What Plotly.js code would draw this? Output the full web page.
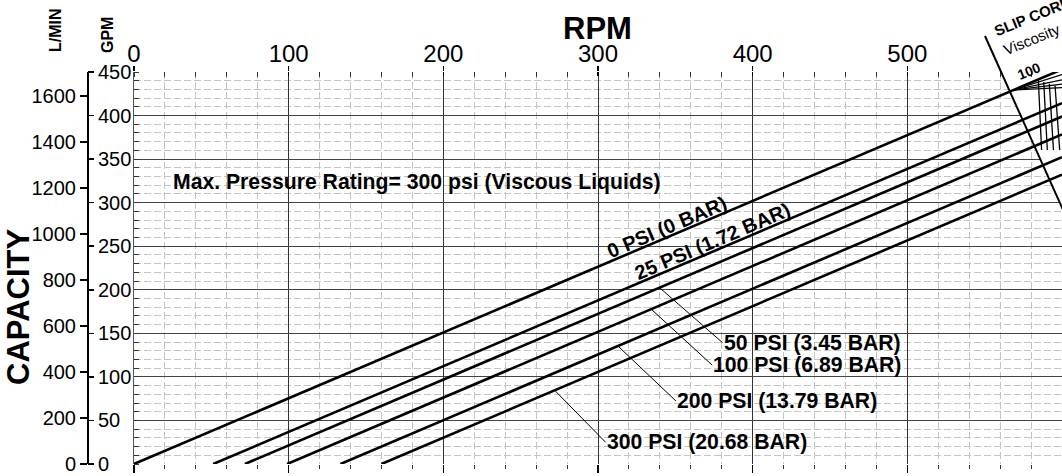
<!DOCTYPE html>
<html><head><meta charset="utf-8">
<script src="https://cdn.plot.ly/plotly-3.0.1.min.js"></script>
<style>html,body{margin:0;padding:0;background:#fff;}#chart{width:1062px;height:476px;}</style>
</head><body><div id="chart"></div>
<script>
// ---------- data ----------
const rpmTicks = [0, 100, 200, 300, 400, 500];
const gpmTicks = [0, 50, 100, 150, 200, 250, 300, 350, 400, 450];
const lpmTicks = [0, 200, 400, 600, 800, 1000, 1200, 1400, 1600];
const pressureLabels = ['0 PSI (0 BAR)', '25 PSI (1.72 BAR)', '50 PSI (3.45 BAR)', '100 PSI (6.89 BAR)', '200 PSI (13.79 BAR)', '300 PSI (20.68 BAR)'];
const lineStartRPM = [0, 51.2, 71.7, 99, 133.5, 160];
const lineStartGPM = [0, 0, 0, 0, 0, 0];
const lineEndRPM = [600, 600, 600, 600, 600, 600];
const lineEndGPM = [453, 414.3, 398.9, 378.3, 352.2, 332.2];
// slip-correction scale (nomogram, partly cut off at right edge)
const slipRPM = [550.2, 602];
const slipGPM = [491.3, 286.4];
const fanStartRPM = 568.3, fanStartGPM = 429.3;
const fanEndRPM = [600, 600, 600, 600];
const fanEndGPM = [447, 441, 436, 432];
const vLineTopRPM = [584.7, 588.2, 591.8, 595.5];
const vLineTopGPM = [441, 438.5, 436.5, 434.5];
const vLineBotRPM = [586.8, 590.5, 594.5, 598.5];
const vLineBotGPM = [360.5, 360.5, 360.5, 360.5];
const GPM_TO_LPM = 3.78541;

// ---------- geometry ----------
const W = 1062, H = 476;
const X0 = 134, YTOP = 72, YBOT = 464;
const xDomain = [X0 / W, 1];
const yDomain = [(H - YBOT) / H, (H - YTOP) / H];
const yMax = 450;
const sc = (yDomain[1] - yDomain[0]) / yMax;
const y2Range = [-yDomain[0] / sc, yMax + (1 - yDomain[1]) / sc];
const FONT = 'Liberation Sans, Arial, Helvetica, sans-serif';

function gpmAt(i, rpm) {
  const t = (rpm - lineStartRPM[i]) / (lineEndRPM[i] - lineStartRPM[i]);
  return lineStartGPM[i] + t * (lineEndGPM[i] - lineStartGPM[i]);
}

const traces = [];
for (let i = 0; i < pressureLabels.length; i++) {
  traces.push({x: [lineStartRPM[i], lineEndRPM[i]], y: [lineStartGPM[i], lineEndGPM[i]],
    mode: 'lines', line: {color: '#000', width: 2.6}, xaxis: 'x', yaxis: 'y',
    hoverinfo: 'skip', showlegend: false, name: pressureLabels[i]});
}
traces.push({x: slipRPM, y: slipGPM, mode: 'lines', line: {color: '#000', width: 2},
  xaxis: 'x3', yaxis: 'y2', hoverinfo: 'skip', showlegend: false});
for (let i = 0; i < fanEndGPM.length; i++) {
  traces.push({x: [fanStartRPM, fanEndRPM[i]], y: [fanStartGPM, fanEndGPM[i]], mode: 'lines',
    line: {color: '#000', width: 1.3}, xaxis: 'x3', yaxis: 'y2', hoverinfo: 'skip', showlegend: false});
}
for (let i = 0; i < vLineTopRPM.length; i++) {
  traces.push({x: [vLineTopRPM[i], vLineBotRPM[i]], y: [vLineTopGPM[i], vLineBotGPM[i]], mode: 'lines',
    line: {color: '#000', width: 1.3}, xaxis: 'x3', yaxis: 'y2', hoverinfo: 'skip', showlegend: false});
}
// invisible anchors for the extra axes
traces.push({x: [0], y: [0], mode: 'markers', marker: {opacity: 0}, xaxis: 'x2', yaxis: 'y', hoverinfo: 'skip', showlegend: false});
traces.push({x: [0], y: [0], mode: 'markers', marker: {opacity: 0}, xaxis: 'x4', yaxis: 'y', hoverinfo: 'skip', showlegend: false});
traces.push({x: [0], y: [0], mode: 'markers', marker: {opacity: 0}, xaxis: 'x', yaxis: 'y3', hoverinfo: 'skip', showlegend: false});
traces.push({x: [0], y: [0], mode: 'markers', marker: {opacity: 0}, xaxis: 'x', yaxis: 'y4', hoverinfo: 'skip', showlegend: false});

const minorGrid = {showgrid: true, gridcolor: '#c4c4c4', griddash: '7px,3px', gridwidth: 1};
const hidden = {visible: false, showgrid: false, zeroline: false, showline: false, ticks: '', showticklabels: false, fixedrange: true};

// slip line position at the top border and right edge (for masking grid beyond it)
const slope = (slipGPM[1] - slipGPM[0]) / (slipRPM[1] - slipRPM[0]);
const slipAtTop = slipRPM[0] + (yMax - slipGPM[0]) / slope;
const slipAtRight = slipGPM[0] + slope * (600 - slipRPM[0]);

const annotations = [];
function txt(o) { annotations.push(Object.assign({showarrow: false, font: {family: FONT, size: 20, color: '#000'}}, o)); }
txt({text: '<b>RPM</b>', xref: 'paper', yref: 'paper', x: 597 / W, y: 1 - 28.5 / H, xanchor: 'center', yanchor: 'middle', font: {family: FONT, size: 31, color: '#000'}});
txt({text: '<b>CAPACITY</b>', xref: 'paper', yref: 'paper', x: 18 / W, y: 1 - 307 / H, textangle: -90, xanchor: 'center', yanchor: 'middle', font: {family: FONT, size: 31, color: '#000'}});
txt({text: '<b>L/MIN</b>', xref: 'paper', yref: 'paper', x: 55 / W, y: 1 - 30 / H, textangle: -90, xanchor: 'center', yanchor: 'middle', font: {family: FONT, size: 16, color: '#000'}});
txt({text: '<b>GPM</b>', xref: 'paper', yref: 'paper', x: 108 / W, y: 1 - 35 / H, textangle: -90, xanchor: 'center', yanchor: 'middle', font: {family: FONT, size: 16, color: '#000'}});
txt({text: '<b>Max. Pressure Rating= 300 psi (Viscous Liquids)</b>', xref: 'paper', yref: 'paper', x: 171 / W, y: 1 - 182 / H, xanchor: 'left', yanchor: 'middle', font: {family: FONT, size: 21.2, color: '#000'}});
// labels along the two upper lines
const rotLabelRPM = [344.6, 374.3];
const rotLabelGPM = [272, 256];
for (let i = 0; i < 2; i++) {
  txt({text: '<b>' + pressureLabels[i] + '</b>', xref: 'x', yref: 'y', x: rotLabelRPM[i], y: rotLabelGPM[i], textangle: -23, xanchor: 'center', yanchor: 'middle', font: {family: FONT, size: 20, color: '#000'}});
}
// labels with leader lines
const leaderRPM = [339.8, 334.4, 312.9, 272];
const leaderOffsets = [[63, 55], [61, 56], [58, 55], [51, 52]];
for (let k = 0; k < 4; k++) {
  const i = k + 2;
  annotations.push({text: '<b>' + pressureLabels[i] + '</b>', xref: 'x', yref: 'y', x: leaderRPM[k], y: gpmAt(i, leaderRPM[k]),
    showarrow: true, arrowhead: 0, arrowwidth: 1, arrowcolor: '#000', ax: leaderOffsets[k][0], ay: leaderOffsets[k][1],
    xanchor: 'left', yanchor: 'middle', borderpad: 0, font: {family: FONT, size: 21.2, color: '#000'}});
}
// slip correction scale texts
txt({text: '<b>SLIP CORRECTION</b>', xref: 'paper', yref: 'paper', x: 1059 / W, y: 1 - 6 / H, textangle: -22, xanchor: 'center', yanchor: 'middle', font: {family: FONT, size: 15, color: '#000'}});
txt({text: 'Viscosity', xref: 'paper', yref: 'paper', x: 1031 / W, y: 1 - 39 / H, textangle: -22, xanchor: 'center', yanchor: 'middle', font: {family: FONT, size: 15, color: '#000'}});
txt({text: '<b>100</b>', xref: 'paper', yref: 'paper', x: 1029 / W, y: 1 - 70.5 / H, textangle: -22, xanchor: 'center', yanchor: 'middle', font: {family: FONT, size: 14, color: '#000'}});

const layout = {
  width: W, height: H,
  margin: {l: 0, r: 0, t: 0, b: 0, pad: 0},
  paper_bgcolor: '#fff', plot_bgcolor: 'rgba(0,0,0,0)',
  showlegend: false,
  font: {family: FONT, color: '#000'},
  xaxis: {domain: xDomain, range: [0, 600], side: 'top', anchor: 'y',
    tickmode: 'array', tickvals: rpmTicks, ticks: 'outside', ticklen: 5, tickwidth: 1.5, tickcolor: '#000',
    ticklabelstandoff: -6,
    tickfont: {family: FONT, size: 24, color: '#000'},
    showgrid: true, gridcolor: '#333', gridwidth: 1, showline: false, zeroline: false, fixedrange: true,
    minor: Object.assign({tickmode: 'linear', tick0: 0, dtick: 20, ticks: 'inside', ticklen: 5, tickwidth: 1, tickcolor: '#333'}, minorGrid)},
  xaxis2: {overlaying: 'x', range: [0, 600], side: 'bottom', anchor: 'y',
    tickmode: 'array', tickvals: rpmTicks, ticks: 'outside', ticklen: 8, tickwidth: 1.5, tickcolor: '#000',
    showticklabels: false, showgrid: false, zeroline: false, showline: false, fixedrange: true,
    minor: {tickmode: 'linear', tick0: 0, dtick: 20, ticks: 'outside', ticklen: 4, tickwidth: 1, tickcolor: '#333', showgrid: false}},
  xaxis4: {overlaying: 'x', range: [0, 600], side: 'top', anchor: 'y',
    tickmode: 'array', tickvals: rpmTicks, ticks: 'inside', ticklen: 4, tickwidth: 1.5, tickcolor: '#000',
    showticklabels: false, showgrid: false, zeroline: false, showline: false, fixedrange: true},
  xaxis3: Object.assign({domain: xDomain, range: [0, 600], anchor: 'y2'}, hidden),
  yaxis: {domain: yDomain, range: [0, yMax], anchor: 'x',
    tickmode: 'array', tickvals: gpmTicks.slice(1), ticks: '', showticklabels: false,
    showgrid: true, gridcolor: '#444', gridwidth: 1.2, showline: true, linecolor: '#555', linewidth: 1.5,
    zeroline: false, fixedrange: true,
    minor: Object.assign({tickmode: 'linear', tick0: 0, dtick: 10, ticks: 'inside', ticklen: 5, tickwidth: 1, tickcolor: '#333'}, minorGrid)},
  yaxis2: Object.assign({domain: [0, 1], range: y2Range, anchor: 'x3'}, hidden),
  yaxis3: {overlaying: 'y', anchor: 'free', position: 87 / W, side: 'left', range: [0, yMax * GPM_TO_LPM],
    tickmode: 'array', tickvals: lpmTicks, ticks: 'outside', ticklen: 7, tickwidth: 1.5, tickcolor: '#000',
    tickfont: {family: FONT, size: 20, color: '#000'},
    showline: true, linecolor: '#000', linewidth: 1.5, showgrid: false, zeroline: false, fixedrange: true},
  yaxis4: {overlaying: 'y', anchor: 'free', position: 87 / W, side: 'right', range: [0, yMax],
    tickmode: 'array', tickvals: gpmTicks, ticks: 'outside', ticklen: 6, tickwidth: 1.5, tickcolor: '#000',
    tickfont: {family: FONT, size: 20, color: '#000'},
    showline: false, showgrid: false, zeroline: false, fixedrange: true},
  shapes: [
    {type: 'path', xref: 'x', yref: 'y', layer: 'between',
     path: 'M' + slipAtTop + ',' + yMax + ' L605,' + yMax + ' L605,' + (slipAtRight - 20) + ' L600,' + slipAtRight + ' Z',
     fillcolor: '#fff', line: {width: 0}}
  ],
  annotations: annotations
};

Plotly.newPlot('chart', traces, layout, {displayModeBar: false, staticPlot: true});
</script>
</body></html>
